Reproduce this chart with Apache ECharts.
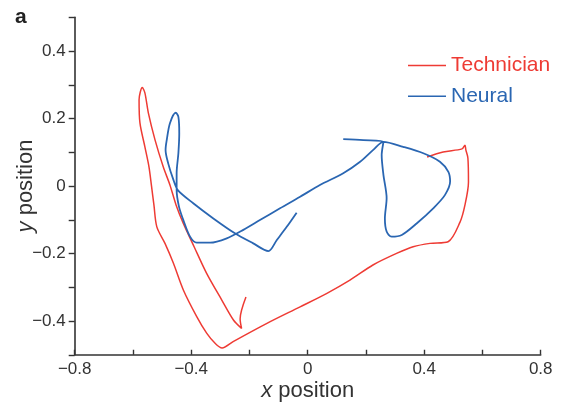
<!DOCTYPE html>
<html>
<head>
<meta charset="utf-8">
<script src="https://cdn.jsdelivr.net/npm/echarts@6/dist/echarts.min.js"></script>
<style>
  html, body { margin: 0; padding: 0; background: #fff; }
  #chart { width: 565px; height: 404px; }
</style>
</head>
<body>
<div id="chart"></div>
<script>
// Hand-held trajectories (x position, y position)
const techX = [0.410, 0.465, 0.530, 0.540, 0.543, 0.550, 0.552, 0.540, 0.523, 0.482,
  0.420, 0.362, 0.307, 0.224, 0.145, 0.066, -0.026, -0.140, -0.256, -0.294,
  -0.318, -0.347, -0.381, -0.427, -0.461, -0.490, -0.518, -0.528, -0.536, -0.545,
  -0.559, -0.576, -0.579, -0.568, -0.559, -0.547, -0.524, -0.496, -0.473, -0.452,
  -0.427, -0.390, -0.347, -0.295, -0.255, -0.227, -0.232, -0.212];
const techY = [0.086, 0.101, 0.110, 0.121, 0.107, 0.083, 0.012, -0.056, -0.107, -0.165,
  -0.170, -0.180, -0.199, -0.234, -0.279, -0.318, -0.358, -0.407, -0.461, -0.480,
  -0.466, -0.436, -0.387, -0.308, -0.229, -0.170, -0.121, -0.056, -0.002, 0.057,
  0.116, 0.187, 0.255, 0.292, 0.276, 0.216, 0.136, 0.057, 0.003, -0.056,
  -0.111, -0.180, -0.259, -0.338, -0.397, -0.422, -0.394, -0.329];

const neuralX = [-0.038, -0.072, -0.106, -0.135, -0.187, -0.250, -0.324, -0.393, -0.446, -0.461,
  -0.479, -0.488, -0.484, -0.473, -0.453, -0.444, -0.441, -0.444, -0.450, -0.450,
  -0.442, -0.427, -0.404, -0.381, -0.335, -0.278, -0.221, -0.164, -0.095, -0.026,
  0.042, 0.122, 0.180, 0.225, 0.260, 0.328, 0.397, 0.454, 0.483, 0.489,
  0.471, 0.431, 0.374, 0.323, 0.288, 0.271, 0.265, 0.271, 0.260, 0.254,
  0.260, 0.191, 0.122];
const neuralY = [-0.079, -0.121, -0.160, -0.193, -0.170, -0.140, -0.096, -0.051, -0.012, 0.018,
  0.067, 0.107, 0.136, 0.186, 0.217, 0.205, 0.156, 0.097, 0.038, -0.012,
  -0.061, -0.101, -0.150, -0.168, -0.168, -0.155, -0.130, -0.101, -0.066, -0.032,
  0.003, 0.038, 0.072, 0.107, 0.131, 0.116, 0.097, 0.072, 0.042, 0.013,
  -0.027, -0.066, -0.111, -0.145, -0.150, -0.135, -0.096, -0.036, 0.033, 0.092,
  0.131, 0.136, 0.139];

const seriesNames = ['Technician', 'Neural'];
const seriesColors = ['#ee3b34', '#2a66b2'];

const pairs = (xs, ys) => xs.map((x, i) => [x, ys[i]]);
const minus = s => s.replace('-', '\u2212');
const fmt = v => {
  const r = Math.round(v * 10) / 10;
  return r === 0 ? '0' : minus(r.toFixed(1));
};

const chart = echarts.init(document.getElementById('chart'), null, { renderer: 'canvas' });
const font = '"Liberation Sans", Arial, Helvetica, sans-serif';
const ink = '#333';

chart.setOption({
  animation: false,
  backgroundColor: '#fff',
  textStyle: { fontFamily: font },
  grid: {
    left: 74.7, right: 24.3, top: 17.25, bottom: 49.25,
    containLabel: false, outerBoundsMode: 'none'
  },
  graphic: [{
    type: 'text', left: 15, top: 7,
    style: { text: 'a', font: 'bold 21px ' + font, fill: '#222' }
  }],
  legend: {
    orient: 'vertical',
    left: 408, top: 55, padding: 0,
    icon: 'rect',
    itemWidth: 38, itemHeight: 1.6, itemGap: 9.7,
    textStyle: { fontSize: 21, fontFamily: font },
    data: [
      { name: seriesNames[0], textStyle: { color: seriesColors[0] } },
      { name: seriesNames[1], textStyle: { color: seriesColors[1] } }
    ]
  },
  xAxis: {
    type: 'value', min: -0.8, max: 0.8, interval: 0.2,
    name: '{i|x} position', nameLocation: 'middle', nameGap: 25, nameMoveOverlap: false,
    nameTextStyle: {
      fontSize: 22, color: ink, fontFamily: font,
      rich: { i: { fontSize: 22, fontStyle: 'italic', color: ink, fontFamily: font } }
    },
    axisLine: { onZero: false, lineStyle: { color: ink, width: 1.6 } },
    axisTick: { inside: true, length: 5, lineStyle: { color: ink, width: 1.4 } },
    axisLabel: {
      fontSize: 17, color: ink, margin: 6,
      formatter: v => (Math.round(v * 10) % 4 === 0 ? fmt(v) : '')
    },
    splitLine: { show: false }
  },
  yAxis: {
    type: 'value', min: -0.5, max: 0.5, interval: 0.1,
    name: '{i|y} position', nameLocation: 'middle', nameGap: 38, nameMoveOverlap: false,
    nameTextStyle: {
      fontSize: 22, color: ink, fontFamily: font,
      rich: { i: { fontSize: 22, fontStyle: 'italic', color: ink, fontFamily: font } }
    },
    axisLine: { onZero: false, lineStyle: { color: ink, width: 1.6 } },
    axisTick: { inside: false, length: 6, lineStyle: { color: ink, width: 1.4 } },
    axisLabel: {
      fontSize: 17, color: ink, margin: 9,
      formatter: v => {
        const k = Math.round(v * 10);
        return (k % 2 === 0 && Math.abs(k) < 5) ? fmt(v) : '';
      }
    },
    splitLine: { show: false }
  },
  series: [
    {
      name: seriesNames[0], type: 'line', symbol: 'none', smooth: 0.3,
      data: pairs(techX, techY),
      lineStyle: { color: seriesColors[0], width: 1.5 },
      itemStyle: { color: seriesColors[0] }
    },
    {
      name: seriesNames[1], type: 'line', symbol: 'none', smooth: 0.3,
      data: pairs(neuralX, neuralY),
      lineStyle: { color: seriesColors[1], width: 1.8 },
      itemStyle: { color: seriesColors[1] }
    }
  ]
});
</script>
</body>
</html>
